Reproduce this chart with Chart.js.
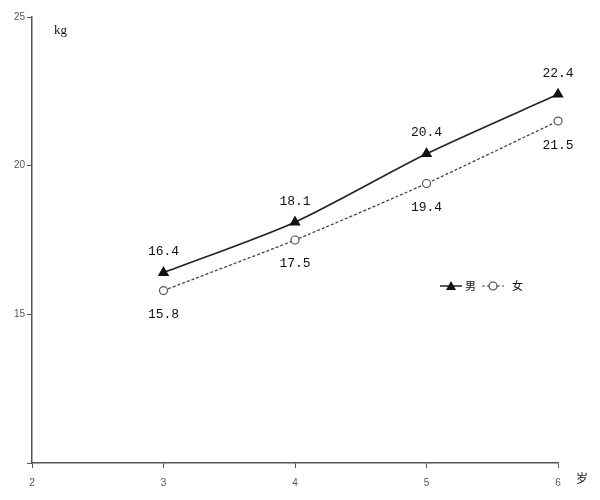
<!DOCTYPE html>
<html>
<head>
<meta charset="utf-8">
<script src="https://cdn.jsdelivr.net/npm/chart.js@4"></script>
<style>
html,body{margin:0;padding:0;background:#fff;}
#wrap{width:600px;height:500px;position:relative;}
</style>
</head>
<body>
<div id="wrap"><canvas id="c" width="600" height="500"></canvas></div>
<script>
const ages = [3, 4, 5, 6];
const boys = [16.4, 18.1, 20.4, 22.4];
const girls = [15.8, 17.5, 19.4, 21.5];
const seriesNames = ['男', '女'];
const yTicks = [10, 15, 20, 25];
const xTicks = [2, 3, 4, 5, 6];
const yUnit = 'kg';
const xUnit = '岁';

const tickFont = {family: "'Liberation Sans Narrow','Liberation Sans',Arial,sans-serif", size: 10};
const labelFont = "13px 'Liberation Mono','DejaVu Sans Mono',monospace";

const extras = {
  id: 'extras',
  afterDatasetsDraw(chart) {
    const ctx = chart.ctx;
    ctx.save();
    ctx.font = labelFont;
    ctx.fillStyle = '#111';
    ctx.textAlign = 'center';
    ctx.textBaseline = 'middle';
    chart.data.datasets.forEach((ds, di) => {
      const meta = chart.getDatasetMeta(di);
      meta.data.forEach((pt, i) => {
        const v = ds.data[i].y.toFixed(1);
        const dy = di === 0 ? -21 : 24;
        ctx.fillText(v, pt.x, pt.y + dy);
      });
    });
    // axis units
    ctx.font = "13px 'Liberation Serif','DejaVu Serif',serif";
    ctx.textAlign = 'left';
    ctx.fillText(yUnit, 54, 31);
    ctx.font = "12px 'Noto Sans CJK SC',sans-serif";
    ctx.fillText(xUnit, 576, 478);
    // legend
    const ly = 286;
    ctx.strokeStyle = '#222';
    ctx.lineWidth = 1.5;
    ctx.setLineDash([]);
    ctx.beginPath(); ctx.moveTo(440, ly); ctx.lineTo(462, ly); ctx.stroke();
    ctx.fillStyle = '#111';
    ctx.beginPath(); ctx.moveTo(451, ly - 5); ctx.lineTo(456, ly + 4); ctx.lineTo(446, ly + 4); ctx.closePath(); ctx.fill();
    ctx.font = "11px 'Noto Sans CJK SC',sans-serif";
    ctx.fillText(seriesNames[0], 465, ly);
    ctx.strokeStyle = '#444';
    ctx.lineWidth = 1.2;
    ctx.setLineDash([3, 2]);
    ctx.beginPath(); ctx.moveTo(482, ly); ctx.lineTo(504, ly); ctx.stroke();
    ctx.setLineDash([]);
    ctx.fillStyle = '#fff';
    ctx.beginPath(); ctx.arc(493, ly, 4, 0, Math.PI * 2); ctx.fill(); ctx.stroke();
    ctx.fillStyle = '#111';
    ctx.fillText(seriesNames[1], 512, ly);
    ctx.restore();
  }
};

new Chart(document.getElementById('c'), {
  type: 'line',
  data: {
    datasets: [
      {
        label: seriesNames[0],
        data: ages.map((a, i) => ({x: a, y: boys[i]})),
        borderColor: '#222',
        borderWidth: 1.6,
        pointStyle: 'triangle',
        pointRadius: 5,
        pointBackgroundColor: '#111',
        pointBorderColor: '#111',
        tension: 0.25,
        clip: false,
        fill: false
      },
      {
        label: seriesNames[1],
        data: ages.map((a, i) => ({x: a, y: girls[i]})),
        borderColor: '#444',
        borderWidth: 1.3,
        borderDash: [3, 2],
        pointStyle: 'circle',
        pointRadius: 4,
        pointBackgroundColor: '#fff',
        pointBorderColor: '#555',
        pointBorderWidth: 1.2,
        tension: 0.2,
        clip: false,
        fill: false
      }
    ]
  },
  options: {
    responsive: false,
    animation: false,
    layout: {padding: {top: 17, right: 42, left: 0, bottom: 0}},
    plugins: {legend: {display: false}, tooltip: {enabled: false}},
    scales: {
      x: {
        type: 'linear', min: 2, max: 6,
        afterBuildTicks: s => { s.ticks = xTicks.map(v => ({value: v})); },
        afterFit: s => { s.height = 37; },
        ticks: {font: tickFont, color: '#555', padding: 9, callback: v => String(v)},
        grid: {drawOnChartArea: false, drawTicks: true, tickLength: 5, color: '#555'},
        border: {display: true, color: '#555', width: 1.5}
      },
      y: {
        min: 10, max: 25,
        afterBuildTicks: s => { s.ticks = yTicks.map(v => ({value: v})); },
        afterFit: s => { s.width = 32; },
        ticks: {font: tickFont, color: '#555', padding: 2, callback: v => v === 10 ? '' : String(v)},
        grid: {drawOnChartArea: false, drawTicks: true, tickLength: 5, color: '#555'},
        border: {display: true, color: '#555', width: 1.5}
      }
    }
  },
  plugins: [extras]
});
</script>
</body>
</html>
